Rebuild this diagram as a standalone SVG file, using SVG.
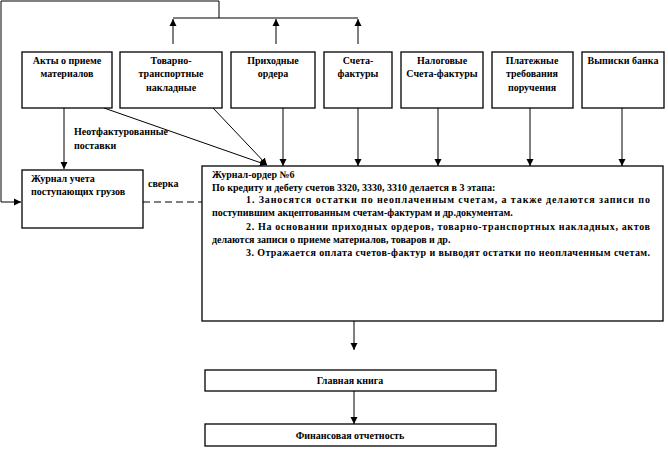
<svg xmlns="http://www.w3.org/2000/svg" width="668" height="449" viewBox="0 0 668 449">
<style>
.box{fill:#fff;stroke:#000;stroke-width:1.3}
.ln{fill:none;stroke:#000;stroke-width:1}
.t{font-family:"Liberation Serif","Times New Roman",serif;font-weight:bold;font-size:10px;fill:#000}
.c{text-anchor:middle}
</style>
<defs>
<marker id="ah" viewBox="0 0 10 10" refX="10" refY="5" markerWidth="7" markerHeight="8" markerUnits="userSpaceOnUse" orient="auto">
<path d="M0,0 L10,5 L0,10 Z" fill="#000"/>
</marker>
</defs>
<rect width="668" height="449" fill="#fff"/>
<g id="connectors">
<polyline class="ln" points="219,18 219,1 1,1 1,202 21,202" marker-end="url(#ah)"/>
<line class="ln" x1="173" y1="18" x2="358" y2="18"/>
<line class="ln" x1="173" y1="44" x2="173" y2="19" marker-end="url(#ah)"/>
<line class="ln" x1="276" y1="44" x2="276" y2="19" marker-end="url(#ah)"/>
<line class="ln" x1="358" y1="44" x2="358" y2="19" marker-end="url(#ah)"/>
<line class="ln" x1="64" y1="108" x2="64" y2="169" marker-end="url(#ah)"/>
<line class="ln" x1="104" y1="108" x2="267" y2="165" marker-end="url(#ah)"/>
<line class="ln" x1="213" y1="108" x2="267" y2="165" marker-end="url(#ah)"/>
<line class="ln" x1="283" y1="108" x2="283" y2="166" marker-end="url(#ah)"/>
<line class="ln" x1="358" y1="108" x2="358" y2="166" marker-end="url(#ah)"/>
<line class="ln" x1="438" y1="108" x2="438" y2="166" marker-end="url(#ah)"/>
<line class="ln" x1="530" y1="108" x2="530" y2="166" marker-end="url(#ah)"/>
<line class="ln" x1="622" y1="108" x2="622" y2="166" marker-end="url(#ah)"/>
<line class="ln" x1="143" y1="202" x2="202" y2="202" stroke-dasharray="7,4"/>
<line class="ln" x1="354" y1="321" x2="354" y2="350" marker-end="url(#ah)"/>
<line class="ln" x1="354" y1="391" x2="354" y2="424" marker-end="url(#ah)"/>
<text class="t" x="74" y="135">Неотфактурованные</text>
<text class="t" x="74" y="149">поставки</text>
<text class="t" x="148" y="187">сверка</text>
</g>
<g id="akty">
<rect class="box" x="22" y="52" width="90" height="56"/>
<text class="t c" x="67" y="64">Акты о приеме</text>
<text class="t c" x="67" y="77">материалов</text>
</g>
<g id="ttn">
<rect class="box" x="120" y="52" width="102" height="56"/>
<text class="t c" x="171" y="64">Товарно-</text>
<text class="t c" x="171" y="77">транспортные</text>
<text class="t c" x="171" y="91">накладные</text>
</g>
<g id="prihod">
<rect class="box" x="231" y="52" width="84" height="56"/>
<text class="t c" x="273" y="64">Приходные</text>
<text class="t c" x="273" y="77">ордера</text>
</g>
<g id="schet">
<rect class="box" x="324" y="52" width="68" height="56"/>
<text class="t c" x="358" y="64">Счета-</text>
<text class="t c" x="358" y="77">фактуры</text>
</g>
<g id="nalog">
<rect class="box" x="401" y="52" width="82" height="56"/>
<text class="t c" x="442" y="64">Налоговые</text>
<text class="t c" x="442" y="77">Счета-фактуры</text>
</g>
<g id="plat">
<rect class="box" x="492" y="52" width="81" height="56"/>
<text class="t c" x="532" y="64">Платежные</text>
<text class="t c" x="532" y="77">требования</text>
<text class="t c" x="532" y="91">поручения</text>
</g>
<g id="vypiski">
<rect class="box" x="582" y="52" width="82" height="56"/>
<text class="t c" x="623" y="64">Выписки банка</text>
</g>
<g id="zhurnal-ucheta">
<rect class="box" x="22" y="170" width="121" height="58"/>
<text class="t" x="31" y="182">Журнал учета</text>
<text class="t" x="31" y="195">поступающих грузов</text>
</g>
<g id="zhurnal-order">
<rect class="box" x="202" y="166" width="461" height="155"/>
<text class="t" x="212" y="178">Журнал-ордер №6</text>
<text class="t" x="212" y="191">По кредиту и дебету счетов 3320, 3330, 3310 делается в 3 этапа:</text>
<text class="t" x="246" y="203" textLength="404" lengthAdjust="spacing">1. Заносятся остатки по неоплаченным счетам, а также делаются записи по</text>
<text class="t" x="212" y="216">поступившим акцептованным счетам-фактурам и др.документам.</text>
<text class="t" x="246" y="230" textLength="404" lengthAdjust="spacing">2. На основании приходных ордеров, товарно-транспортных накладных, актов</text>
<text class="t" x="212" y="243">делаются записи о приеме материалов, товаров и др.</text>
<text class="t" x="246" y="256" textLength="404" lengthAdjust="spacing">3. Отражается оплата счетов-фактур и выводят остатки по неоплаченным счетам.</text>
</g>
<g id="glavnaya">
<rect class="box" x="205" y="370" width="291" height="21"/>
<text class="t c" x="350" y="384">Главная книга</text>
</g>
<g id="finans">
<rect class="box" x="205" y="424" width="291" height="22"/>
<text class="t c" x="350" y="439">Финансовая отчетность</text>
</g>
</svg>
